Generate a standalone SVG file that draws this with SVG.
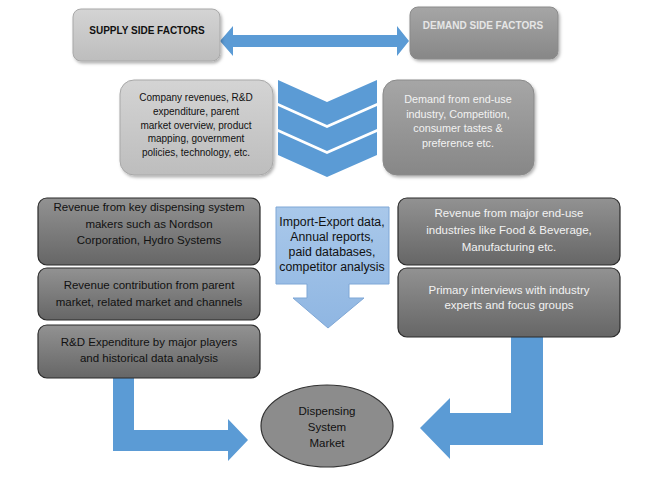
<svg xmlns="http://www.w3.org/2000/svg" width="650" height="477" viewBox="0 0 650 477">
<defs>
<linearGradient id="gLight" x1="0" y1="0" x2="0" y2="1"><stop offset="0" stop-color="#d4d4d4"/><stop offset="1" stop-color="#bdbdbd"/></linearGradient>
<linearGradient id="gMid" x1="0" y1="0" x2="0" y2="1"><stop offset="0" stop-color="#a6a6a6"/><stop offset="1" stop-color="#878787"/></linearGradient>
<linearGradient id="gDark" x1="0" y1="0" x2="0" y2="1"><stop offset="0" stop-color="#929292"/><stop offset="1" stop-color="#666666"/></linearGradient>
<linearGradient id="gBlue" x1="0" y1="0" x2="0" y2="1"><stop offset="0" stop-color="#a9c8ea"/><stop offset="1" stop-color="#8fb6e2"/></linearGradient>
<filter id="sh" x="-10%" y="-10%" width="125%" height="130%"><feDropShadow dx="1.5" dy="2" stdDeviation="1.5" flood-color="#000" flood-opacity="0.3"/></filter>
</defs>
<style>
.t{font-family:"Liberation Sans",Arial,sans-serif;text-anchor:middle}
.hb{font-size:10px;font-weight:bold}
.s2{font-size:10px}
.s2r{font-size:10.8px}
.s3{font-size:11.5px}
.s4{font-size:12.3px}
.dk{fill:#111}
.wh{fill:#f2f2f2}
.blue{fill:#5b9bd5}
.dbox{fill:url(#gDark);stroke:#2b2b2b;stroke-width:1.2}
</style>
<g id="connectors">
<path class="blue" d="M220,41 L233,26 L233,35 L397,35 L397,26 L409,41 L397,56 L397,47 L233,47 L233,56 Z"/>
<path class="blue" d="M278,80 L327,102 L377,80 L377,103 L327,125 L278,103 Z"/>
<path class="blue" d="M278,106 L327,128 L377,106 L377,129 L327,151 L278,129 Z"/>
<path class="blue" d="M278,132 L327,154 L377,132 L377,155 L327,177 L278,155 Z"/>
<path class="blue" d="M113,376 L134,376 L134,430 L228,430 L228,419 L248,440 L228,461 L228,451 L113,451 Z"/>
<path class="blue" d="M511,336 L543,336 L543,445 L450,445 L450,459 L420,428 L450,398 L450,413 L511,413 Z"/>
</g>
<g id="supply">
<rect x="73" y="9" width="147" height="52" rx="8" fill="url(#gLight)" stroke="#a8a8a8" filter="url(#sh)"/>
<text class="t hb dk" x="147" y="34">SUPPLY SIDE FACTORS</text>
</g>
<g id="demand">
<rect x="410" y="7" width="148" height="52" rx="8" fill="url(#gMid)" stroke="#8a8a8a" filter="url(#sh)"/>
<text class="t hb" x="483" y="29" fill="#e6e6e6">DEMAND SIDE FACTORS</text>
</g>
<g id="supply-detail">
<rect x="120" y="80" width="153" height="95" rx="14" fill="url(#gLight)" stroke="#a8a8a8" filter="url(#sh)"/>
<text class="t s2 dk" x="196" y="101">Company revenues, R&amp;D</text>
<text class="t s2 dk" x="196" y="115">expenditure, parent</text>
<text class="t s2 dk" x="196" y="128.5">market overview, product</text>
<text class="t s2 dk" x="196" y="142">mapping, government</text>
<text class="t s2 dk" x="196" y="155.5">policies, technology, etc.</text>
</g>
<g id="demand-detail">
<rect x="383" y="80" width="151" height="95" rx="14" fill="url(#gMid)" stroke="#8a8a8a" filter="url(#sh)"/>
<text class="t s2r wh" x="458" y="103">Demand from end-use</text>
<text class="t s2r wh" x="458" y="117.5">industry, Competition,</text>
<text class="t s2r wh" x="458" y="132">consumer tastes &amp;</text>
<text class="t s2r wh" x="458" y="146.5">preference etc.</text>
</g>
<g id="left1">
<rect class="dbox" x="38" y="198" width="222" height="67" rx="9"/>
<text class="t s3 dk" x="149" y="211">Revenue from key dispensing system</text>
<text class="t s3 dk" x="149" y="227.5">makers such as Nordson</text>
<text class="t s3 dk" x="149" y="244">Corporation, Hydro Systems</text>
</g>
<g id="left2">
<rect class="dbox" x="38" y="268" width="222" height="52" rx="9"/>
<text class="t s3 dk" x="149" y="289">Revenue contribution from parent</text>
<text class="t s3 dk" x="149" y="306">market, related market and channels</text>
</g>
<g id="left3">
<rect class="dbox" x="38" y="325" width="222" height="53" rx="9"/>
<text class="t s3 dk" x="149" y="346">R&amp;D Expenditure by major players</text>
<text class="t s3 dk" x="149" y="362">and historical data analysis</text>
</g>
<g id="sources">
<path d="M276,207 L389,207 L389,284 L349,284 L349,298 L364,298 L328,328 L293,298 L307,298 L307,284 L276,284 Z" fill="url(#gBlue)" stroke="#7fa7d6" stroke-width="1"/>
<text class="t s4 dk" x="332" y="226">Import-Export data,</text>
<text class="t s4 dk" x="332" y="241">Annual reports,</text>
<text class="t s4 dk" x="332" y="256">paid databases,</text>
<text class="t s4 dk" x="332" y="271">competitor analysis</text>
</g>
<g id="right1">
<rect class="dbox" x="398" y="198" width="222" height="67" rx="9"/>
<text class="t s3 wh" x="509" y="217">Revenue from major end-use</text>
<text class="t s3 wh" x="509" y="234">industries like Food &amp; Beverage,</text>
<text class="t s3 wh" x="509" y="251">Manufacturing etc.</text>
</g>
<g id="right2">
<rect class="dbox" x="398" y="268" width="222" height="69" rx="9"/>
<text class="t s3 wh" x="509" y="294">Primary interviews with industry</text>
<text class="t s3 wh" x="509" y="309">experts and focus groups</text>
</g>
<g id="market">
<ellipse cx="327" cy="426" rx="66" ry="41" fill="#8c8c8c" stroke="#333" stroke-width="1.2"/>
<text class="t s3 dk" x="327" y="415">Dispensing</text>
<text class="t s3 dk" x="327" y="431">System</text>
<text class="t s3 dk" x="327" y="447">Market</text>
</g>
</svg>
